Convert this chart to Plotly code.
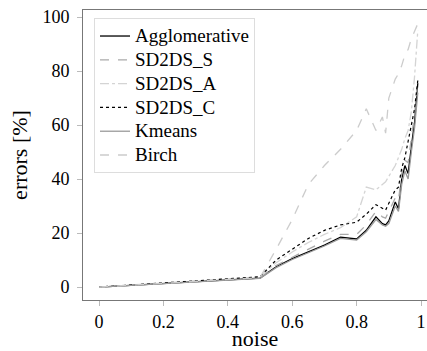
import plotly.graph_objects as go

noise = [0, 0.5, 0.55, 0.6, 0.65, 0.7, 0.75, 0.8, 0.83, 0.86, 0.88, 0.89, 0.9,
         0.92, 0.93, 0.94, 0.95, 0.96, 0.97, 0.98, 0.99]

agglomerative = [0, 3.3, 7.5, 10.5, 13, 15.5, 18.5, 17.8, 21, 26, 23.5, 23, 24.5,
                 31.5, 29, 40, 45, 42, 52, 61, 75.5]
sd2ds_s = [0, 3.5, 8, 11, 14, 17, 19.5, 19.5, 23, 28, 26, 25.5, 28,
           33, 32, 42, 47, 46, 55, 64, 76]
sd2ds_a = [0, 3.8, 9, 13, 16.5, 19.5, 22, 26, 37, 36, 38, 39, 41,
           45, 48, 51, 55, 58, 65, 78, 95]
sd2ds_c = [0, 3.8, 10, 14, 18, 21, 23, 24, 27, 30.5, 29, 28.5, 31,
           36, 37, 44, 48, 54, 59, 66, 76.5]
kmeans = [0, 3.2, 7.2, 10.2, 12.7, 15.2, 18, 17.4, 20.5, 25, 23, 22.5, 23.5,
          30, 28, 38, 43, 40, 50, 59, 72]
birch = [0, 3.5, 14, 25, 38, 45, 51, 58, 66, 58, 63, 57, 70,
         77, 79, 82, 86, 88, 92, 95, 97.5]

series = [
    ("Agglomerative", agglomerative, "#000000", "solid", 1.3),
    ("SD2DS_S", sd2ds_s, "#aaaaaa", "dash", 1.3),
    ("SD2DS_A", sd2ds_a, "#d4d4d4", "dashdot", 1.3),
    ("SD2DS_C", sd2ds_c, "#000000", "dot", 1.2),
    ("Kmeans", kmeans, "#9a9a9a", "solid", 1.3),
    ("Birch", birch, "#cccccc", "dash", 1.3),
]

fig = go.Figure()
for name, vals, color, dash, w in series:
    fig.add_trace(go.Scatter(x=noise, y=vals, mode="lines",
                             name="<span style='font-size:19px'>%s</span>" % name,
                             line=dict(color=color, dash=dash, width=w)))

font = dict(family="Liberation Serif", size=18, color="#000000")
fig.update_layout(
    width=427, height=351,
    margin=dict(l=83, r=0, t=10, b=51),
    plot_bgcolor="white", paper_bgcolor="white",
    font=font,
    showlegend=True,
    legend=dict(x=0.032, y=0.972, xanchor="left", yanchor="top",
                bordercolor="#dddddd", borderwidth=1, bgcolor="white",
                font=dict(family="Liberation Serif", size=16, color="#000000"),
                tracegroupgap=0, itemwidth=30),
    xaxis=dict(range=[-0.05, 1.0186], tickvals=[0, 0.2, 0.4, 0.6, 0.8, 1],
               ticktext=["0", "0.2", "0.4", "0.6", "0.8", "1"],
               showgrid=False, zeroline=False, showline=True, mirror=True,
               linecolor="#777777", linewidth=1, ticks="outside", ticklen=5,
               tickcolor="#bbbbbb", title=dict(text="noise", standoff=2)),
    yaxis=dict(range=[-4.8, 102.6], tickvals=[0, 20, 40, 60, 80, 100],
               showgrid=False, zeroline=False, showline=True, mirror=False,
               linecolor="#777777", linewidth=1, ticks="outside", ticklen=5,
               tickcolor="#bbbbbb", ticklabelstandoff=4,
               title=dict(text="errors [%]", standoff=8)),
)
fig.write_html("out.html")
